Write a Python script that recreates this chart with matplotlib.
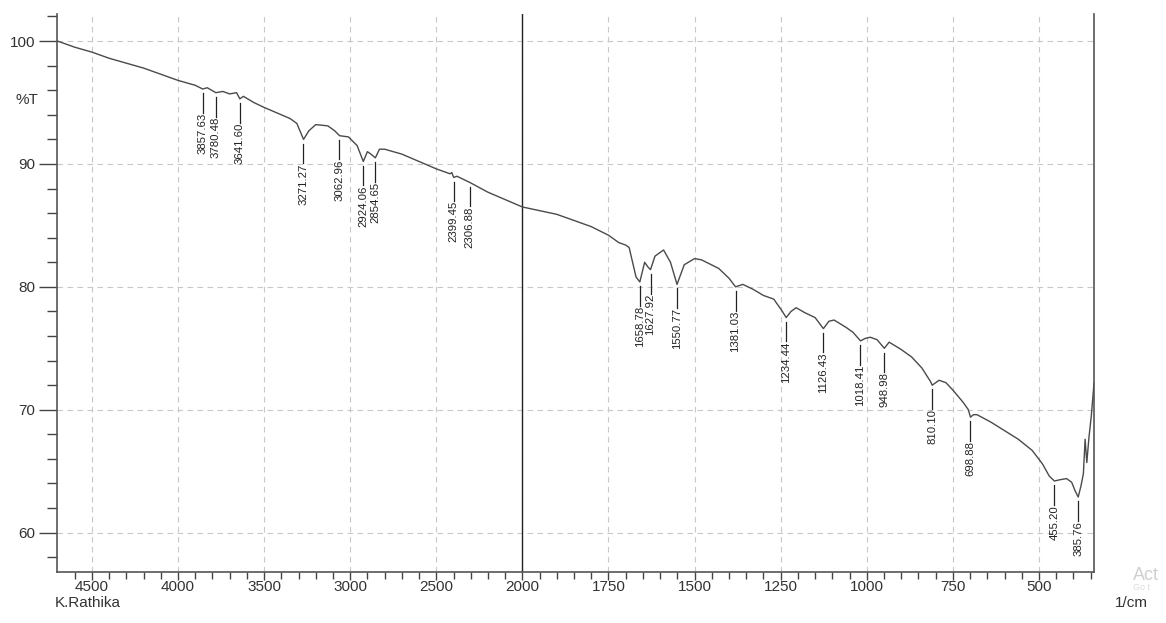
# FTIR spectrum (%T vs wavenumber), Shimadzu style with split x scale at 2000 1/cm
import numpy as np
import matplotlib.pyplot as plt

plt.rcParams['font.family'] = ['Liberation Sans', 'DejaVu Sans']

# spectrum (wavenumber in 1/cm, transmittance in %)
wavenumber = [4700, 4600, 4500, 4400, 4300, 4200, 4100, 4000, 3900, 3857, 3830,
              3780, 3740, 3700, 3660, 3641, 3620, 3560, 3500, 3450, 3400, 3350,
              3310, 3271, 3240, 3200, 3130, 3090, 3062, 3010, 2960, 2924, 2900,
              2880, 2854, 2830, 2800, 2700, 2600, 2500, 2420, 2410, 2399, 2380,
              2306, 2200, 2100, 2000,
              1900, 1800, 1750, 1720, 1700, 1690, 1670, 1659, 1645, 1635, 1628,
              1615, 1590, 1570, 1551, 1530, 1500, 1480, 1430, 1400, 1381, 1360,
              1330, 1300, 1270, 1245, 1234, 1220, 1205, 1180, 1150, 1126, 1110,
              1095, 1060, 1040, 1018, 1005, 990, 970, 958, 949, 935, 900, 870,
              840, 815, 810, 790, 770, 750, 720, 705, 699, 690, 680, 640, 600,
              560, 520, 490, 470, 455, 440, 420, 405, 395, 386, 378, 371, 366,
              361, 355, 348, 340]
transmittance = [100.0, 99.5, 99.1, 98.6, 98.2, 97.8, 97.3, 96.8, 96.4, 96.1, 96.2,
                 95.8, 95.9, 95.7, 95.8, 95.3, 95.5, 95.0, 94.6, 94.3, 94.0, 93.7,
                 93.3, 92.0, 92.7, 93.2, 93.1, 92.7, 92.3, 92.2, 91.5, 90.2, 91.0,
                 90.8, 90.5, 91.2, 91.2, 90.8, 90.2, 89.6, 89.2, 89.3, 88.9, 89.0,
                 88.5, 87.7, 87.1, 86.5,
                 85.9, 84.9, 84.2, 83.6, 83.4, 83.2, 80.8, 80.4, 82.0, 81.6, 81.4,
                 82.5, 83.0, 82.0, 80.2, 81.8, 82.3, 82.2, 81.5, 80.7, 80.0, 80.2,
                 79.8, 79.3, 79.0, 78.0, 77.5, 78.0, 78.3, 77.9, 77.5, 76.6, 77.2,
                 77.3, 76.7, 76.3, 75.6, 75.8, 75.9, 75.7, 75.3, 75.0, 75.5, 74.9,
                 74.3, 73.4, 72.3, 72.0, 72.4, 72.2, 71.6, 70.6, 70.0, 69.4, 69.6,
                 69.6, 69.0, 68.3, 67.6, 66.7, 65.6, 64.6, 64.2, 64.3, 64.4, 64.1,
                 63.4, 62.9, 63.8, 64.8, 67.6, 65.7, 67.7, 69.5, 72.2]

# picked peaks
peaks = [3857.63, 3780.48, 3641.60, 3271.27, 3062.96, 2924.06, 2854.65, 2399.45,
         2306.88, 1658.78, 1627.92, 1550.77, 1381.03, 1234.44, 1126.43, 1018.41,
         948.98, 810.10, 698.88, 455.20, 385.76]

major_x = [4500, 4000, 3500, 3000, 2500, 2000, 1750, 1500, 1250, 1000, 750, 500]
major_y = [60, 70, 80, 90, 100]

w = np.array(wavenumber, float)
T = np.array(transmittance, float)


# above 2000 1/cm the axis is compressed by half
def fwd(x):
    x = np.asarray(x, float)
    return np.where(x > 2000, 2000 + (x - 2000) / 2, x)


def inv(u):
    u = np.asarray(u, float)
    return np.where(u > 2000, 2000 + (u - 2000) * 2, u)


fig = plt.figure(figsize=(11.66, 6.23), dpi=100)
ax = fig.add_axes([0.0493, 0.0819, 0.8890, 0.8956])

ax.set_xscale('function', functions=(fwd, inv))
ax.set_xlim(4700, 340)
ax.set_ylim(56.8, 102.2)

ax.plot(w, T, color='#4a4a4a', lw=1.0, zorder=3)
ax.axvline(2000, color='#222222', lw=1.0, zorder=2)

# peak markers and labels
for p in peaks:
    t = np.interp(p, w[::-1], T[::-1])
    ax.plot([p, p], [t - 0.35, t - 1.95], color='#222222', lw=0.9, zorder=3)
    ax.text(p, t - 1.95, f'{p:.2f}', rotation=90, ha='center', va='top',
            fontsize=8.2, color='#222222')

# ticks
minor_x = [v for v in range(4600, 2000, -100) if v not in major_x] + \
          [v for v in range(1950, 340, -50) if v not in major_x]
ax.set_xticks(major_x)
ax.set_xticklabels([str(v) for v in major_x])
ax.set_xticks(minor_x, minor=True)
ax.set_yticks(major_y)
ax.set_yticks(np.arange(58, 103, 2), minor=True)
ax.tick_params(which='major', direction='out', width=1, labelsize=11,
               color='#444444', labelcolor='#333333')
ax.tick_params(axis='x', which='major', length=6, pad=0)
ax.tick_params(axis='x', which='minor', length=5, width=1, color='#444444')
ax.tick_params(axis='y', which='major', length=13, pad=3)
ax.tick_params(axis='y', which='minor', length=7, width=1, color='#444444')

ax.grid(which='major', linestyle=(0, (5, 4)), color='#c8c8c8', linewidth=0.8)
ax.set_axisbelow(True)

ax.spines['top'].set_visible(False)
for s in ['left', 'right', 'bottom']:
    ax.spines[s].set_color('#555555')
    ax.spines[s].set_linewidth(1.2)

ax.text(-0.018, 95.2, '%T', transform=ax.get_yaxis_transform(), ha='right',
        va='center', fontsize=11, color='#333333')
fig.text(55 / 1166, 1 - 603 / 623, 'K.Rathika', ha='left', va='center',
         fontsize=11, color='#333333')
fig.text(1148 / 1166, 1 - 603 / 623, '1/cm', ha='right', va='center',
         fontsize=11, color='#333333')

# faint screen watermark at the right edge
fig.text(1133 / 1166, 1 - 575 / 623, 'Act', ha='left', va='center',
         fontsize=13, color='#cfcfcf')
fig.text(1133 / 1166, 1 - 588 / 623, 'Go t', ha='left', va='center',
         fontsize=6.5, color='#dcdcdc')

fig.savefig('out.png', dpi=100)
